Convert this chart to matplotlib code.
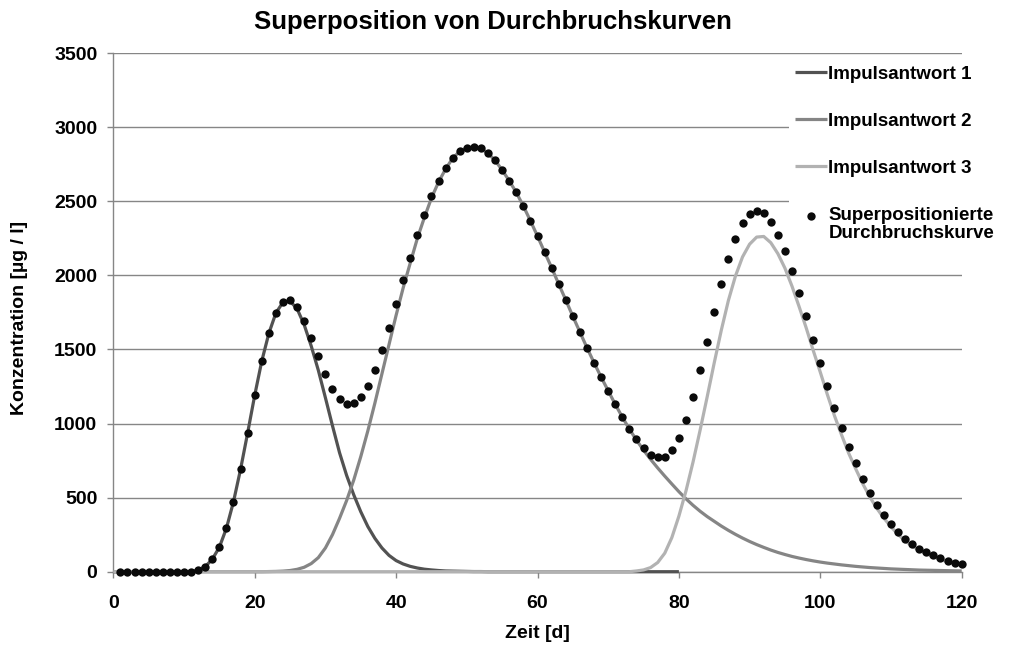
import numpy as np
import matplotlib
matplotlib.use("Agg")
import matplotlib.pyplot as plt
from matplotlib.legend_handler import HandlerLine2D

plt.rcParams['font.family'] = ['Liberation Sans', 'DejaVu Sans']
plt.rcParams['font.weight'] = 'bold'

# ---- data ----
title = "Superposition von Durchbruchskurven"
xlabel = "Zeit [d]"
ylabel = "Konzentration [µg / l]"
labels = ["Impulsantwort 1", "Impulsantwort 2", "Impulsantwort 3",
          "Superpositionierte\nDurchbruchskurve"]
xticks = [0, 20, 40, 60, 80, 100, 120]
yticks = [0, 500, 1000, 1500, 2000, 2500, 3000, 3500]

# superposed breakthrough curve (dots), days 1..120
dot_days = list(range(1, 121))
dots = [0, 0, 0, 0, 0, 0, 0, 0, 0, 0,
        0, 11, 34, 84, 165, 293, 472, 691, 936, 1190,
        1421, 1609, 1748, 1822, 1834, 1789, 1694, 1577, 1454, 1334,
        1235, 1163, 1130, 1137, 1181, 1255, 1363, 1496, 1643, 1805,
        1967, 2119, 2273, 2407, 2533, 2637, 2722, 2794, 2839, 2861,
        2868, 2857, 2823, 2777, 2711, 2639, 2560, 2468, 2369, 2265,
        2158, 2052, 1942, 1834, 1724, 1618, 1512, 1411, 1314, 1222,
        1130, 1044, 965, 896, 835, 790, 772, 776, 819, 904,
        1024, 1179, 1359, 1552, 1751, 1940, 2110, 2247, 2351, 2414,
        2436, 2418, 2362, 2274, 2162, 2027, 1879, 1726, 1564, 1408,
        1253, 1105, 970, 842, 731, 626, 533, 452, 383, 322,
        268, 223, 187, 155, 131, 111, 90, 74, 61, 50]

# impulse response 1, days 0..80
c1_days = list(range(0, 81))
c1 = [0,
      0, 0, 0, 0, 0, 0, 0, 0, 0, 0,
      0, 11, 34, 84, 165, 293, 472, 691, 936, 1190,
      1421, 1608, 1746, 1818, 1826, 1774, 1666, 1522, 1359, 1174,
      985, 803, 650, 520, 405, 305, 225, 160, 110, 75,
      52, 36, 25, 17, 12, 8, 5, 4, 3, 2,
      1, 1, 0, 0, 0, 0, 0, 0, 0, 0,
      0, 0, 0, 0, 0, 0, 0, 0, 0, 0,
      0, 0, 0, 0, 0, 0, 0, 0, 0, 0]

# impulse response 2, days 0..120
c23_days = list(range(0, 121))
c2 = [0,
      0, 0, 0, 0, 0, 0, 0, 0, 0, 0,
      0, 0, 0, 0, 0, 0, 0, 0, 0, 0,
      0, 1, 2, 4, 8, 16, 30, 55, 95, 160,
      250, 360, 480, 617, 776, 950, 1138, 1336, 1533, 1730,
      1915, 2083, 2248, 2390, 2521, 2629, 2717, 2790, 2836, 2859,
      2867, 2856, 2822, 2776, 2710, 2638, 2559, 2467, 2368, 2264,
      2157, 2051, 1941, 1833, 1723, 1617, 1511, 1410, 1313, 1221,
      1129, 1043, 962, 888, 820, 758, 700, 645, 592, 540,
      492, 448, 408, 372, 340, 308, 279, 252, 227, 204,
      183, 164, 146, 130, 116, 103, 92, 82, 73, 65,
      58, 52, 46, 41, 36, 32, 28, 25, 22, 19,
      17, 15, 13, 11, 10, 9, 8, 7, 6, 5]

# impulse response 3, days 0..120
c3 = [0,
      0, 0, 0, 0, 0, 0, 0, 0, 0, 0,
      0, 0, 0, 0, 0, 0, 0, 0, 0, 0,
      0, 0, 0, 0, 0, 0, 0, 0, 0, 0,
      0, 0, 0, 0, 0, 0, 0, 0, 0, 0,
      0, 0, 0, 0, 0, 0, 0, 0, 0, 0,
      0, 0, 0, 0, 0, 0, 0, 0, 0, 0,
      0, 0, 0, 0, 0, 0, 0, 0, 0, 0,
      0, 0, 0, 5, 12, 28, 62, 125, 230, 375,
      545, 740, 955, 1180, 1410, 1630, 1830, 1995, 2124, 2210,
      2258, 2262, 2220, 2146, 2048, 1926, 1789, 1646, 1493, 1346,
      1195, 1053, 924, 801, 695, 594, 505, 427, 361, 303,
      251, 208, 174, 144, 121, 102, 82, 67, 55, 45]

col1, col2, col3 = '#525252', '#858585', '#b2b2b2'
grid_col = '#868686'


class RaisedHandler(HandlerLine2D):
    """Align the legend marker with the first line of a two-line label."""
    def create_artists(self, legend, orig_handle, xdescent, ydescent, width, height,
                       fontsize, trans):
        return super().create_artists(legend, orig_handle, xdescent, ydescent - 12.5,
                                      width, height, fontsize, trans)


fig = plt.figure(figsize=(10.24, 6.51), dpi=100)
ax = fig.add_axes([113.3 / 1024, 1 - 571.7 / 651, (961.7 - 113.3) / 1024, (571.7 - 53) / 651])

ax.set_xlim(0, 120)
ax.set_ylim(0, 3500)
ax.set_xticks(xticks)
ax.set_yticks(yticks)
ax.yaxis.grid(True, color=grid_col, linewidth=1.0)
ax.set_axisbelow(True)
for s in ['top', 'right']:
    ax.spines[s].set_visible(False)
for s in ['left', 'bottom']:
    ax.spines[s].set_color(grid_col)
    ax.spines[s].set_linewidth(1.0)
ax.tick_params(axis='both', direction='out', length=4, width=1, color=grid_col,
               labelsize=14)
ax.tick_params(axis='y', pad=7.5)
ax.tick_params(axis='x', pad=13)
for lab in ax.get_xticklabels() + ax.get_yticklabels():
    lab.set_fontweight('bold')

lw = 2.3
l1, = ax.plot(c1_days, c1, color=col1, lw=lw, solid_capstyle='butt', clip_on=False, zorder=3)
l2, = ax.plot(c23_days, c2, color=col2, lw=lw, solid_capstyle='butt', clip_on=False, zorder=3)
l3, = ax.plot(c23_days, c3, color=col3, lw=lw, solid_capstyle='butt', clip_on=False, zorder=3)
d, = ax.plot(dot_days, dots, 'o', color='#0a0a0a', ms=6.0, mec='none', clip_on=False, zorder=4)

leg = ax.legend([l1, l2, l3, d], labels, loc='upper left',
                bbox_to_anchor=(789 / 1024, 1 - 60 / 651), bbox_transform=fig.transFigure,
                frameon=True, fancybox=False, framealpha=1, facecolor='white', edgecolor='none',
                prop={'size': 13.5, 'weight': 'bold'}, handlelength=1.7, handletextpad=0.1,
                labelspacing=1.6, borderpad=0.3, borderaxespad=0, markerscale=1.0,
                handler_map={d: RaisedHandler()})
leg.set_zorder(5)
for t in leg.get_texts():
    t.set_linespacing(1.05)

fig.text(493 / 1024, 1 - 22 / 651, title, ha='center', va='center', fontsize=18.5, fontweight='bold')
fig.text(537 / 1024, 1 - 634 / 651, xlabel, ha='center', va='center', fontsize=14, fontweight='bold')
fig.text(20 / 1024, 1 - 318 / 651, ylabel, ha='center', va='center', rotation=90,
         fontsize=14, fontweight='bold')

fig.savefig('out.png', dpi=100, facecolor='white')
